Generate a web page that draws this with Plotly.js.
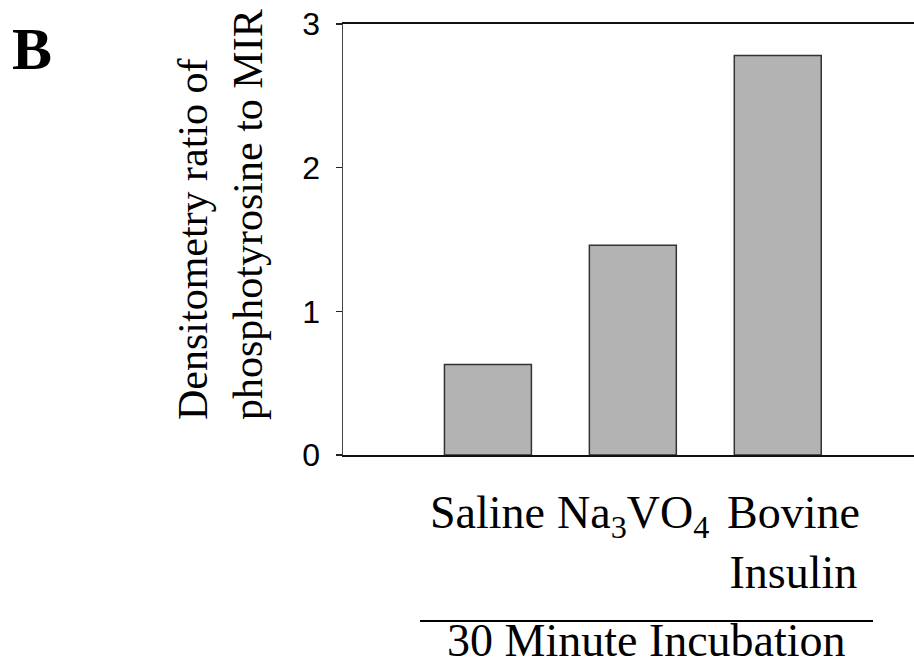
<!DOCTYPE html>
<html>
<head>
<meta charset="utf-8">
<script src="https://cdn.plot.ly/plotly-3.0.1.min.js"></script>
<style>html,body{margin:0;padding:0;background:#fff;}#chart{width:914px;height:668px;}</style>
</head>
<body>
<div id="chart"></div>
<script>
// ---- data ----
var categories = ['Saline', 'Na3VO4', 'Bovine Insulin'];
var labels = ['Saline', 'Na<sub>3</sub>VO<sub>4</sub>', 'Bovine<br>Insulin'];
var values = [0.63, 1.46, 2.78];
var yTicks = [0, 1, 2, 3];
var yTitle = 'Densitometry ratio of<br>phosphotyrosine to MIR';
var groupLabel = '30 Minute Incubation';
var panelLabel = 'B';

// ---- layout helpers (pixel -> paper) ----
var L = 343, R = 914, T = 24, B = 455;
function px(x) { return (x - L) / (R - L); }
function py(y) { return (B - y) / (B - T); }

var serif = 'Liberation Serif, Times New Roman, serif';
var labelShift = [0, 0, 16];

var annotations = labels.map(function (t, i) {
  return {
    x: categories[i], xref: 'x', y: py(485), yref: 'paper',
    xanchor: 'center', yanchor: 'top', xshift: labelShift[i],
    text: t, showarrow: false, align: 'center',
    font: {family: serif, size: 46, color: '#000'}
  };
});
annotations.push({
  x: px(646), xref: 'paper', y: py(613), yref: 'paper',
  xanchor: 'center', yanchor: 'top', text: groupLabel, showarrow: false,
  font: {family: serif, size: 46, color: '#000'}
});
annotations.push({
  x: px(220), xref: 'paper', y: py(215), yref: 'paper',
  xanchor: 'center', yanchor: 'middle', text: yTitle, showarrow: false,
  textangle: -90, align: 'left',
  font: {family: serif, size: 42, color: '#000'}
});
annotations.push({
  x: px(10), xref: 'paper', y: py(14), yref: 'paper',
  xanchor: 'left', yanchor: 'top', text: '<b>' + panelLabel + '</b>', showarrow: false,
  font: {family: serif, size: 60, color: '#000'}
});

var trace = {
  type: 'bar', x: categories, y: values, width: 0.6,
  marker: {color: '#b3b3b3', line: {color: '#333', width: 1.5}},
  hoverinfo: 'skip'
};

var layout = {
  width: 914, height: 668,
  margin: {l: L, r: 0, t: T, b: 668 - B, pad: 0},
  paper_bgcolor: '#fff', plot_bgcolor: '#fff',
  showlegend: false,
  xaxis: {
    type: 'category', categoryorder: 'array', categoryarray: categories,
    range: [-1, 2.94], showticklabels: false, ticks: '',
    showline: true, linecolor: '#111', linewidth: 2, mirror: true,
    showgrid: false, zeroline: false, fixedrange: true
  },
  yaxis: {
    range: [0, 3], tickvals: yTicks, ticktext: yTicks.map(String),
    ticks: 'outside', ticklen: 6, tickwidth: 1.5, tickcolor: '#222',
    showline: true, linecolor: '#444', linewidth: 1.5,
    showgrid: false, zeroline: false, ticklabelstandoff: 9,
    tickfont: {family: 'Liberation Sans, Arial, sans-serif', size: 32, color: '#000'},
    fixedrange: true
  },
  shapes: [{
    type: 'line', xref: 'paper', yref: 'paper',
    x0: px(420), x1: px(873), y0: py(621), y1: py(621),
    line: {color: '#000', width: 2}
  }],
  annotations: annotations
};

Plotly.newPlot('chart', [trace], layout, {staticPlot: true, displayModeBar: false});
</script>
</body>
</html>
